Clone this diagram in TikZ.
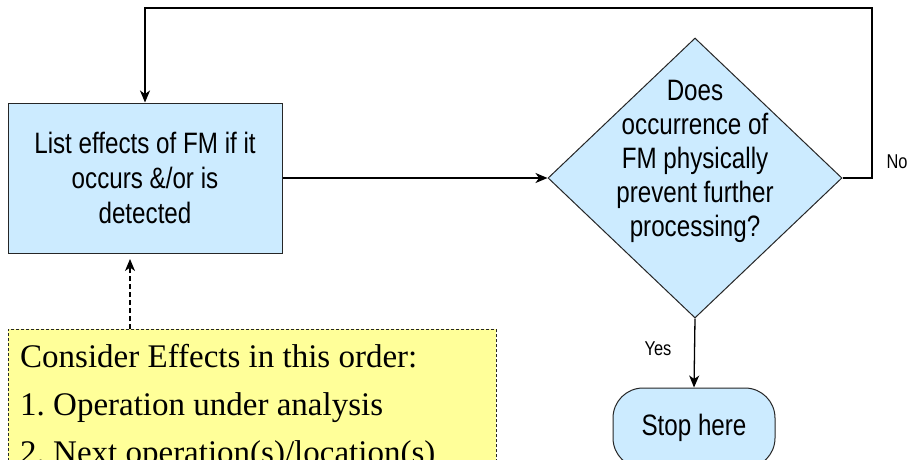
\documentclass[tikz,border=0pt]{standalone}
\usepackage{fontspec}
\setmainfont{Liberation Serif}
\newfontfamily\narrowsans[FakeStretch=0.82]{Liberation Sans}
\usetikzlibrary{shapes.geometric,arrows.meta}

\definecolor{boxblue}{HTML}{CCEBFF}
\definecolor{noteyellow}{HTML}{FFFF99}

\tikzset{
  flowline/.style={line width=1.3pt, -{Stealth[length=12pt,width=10pt,inset=3.5pt]}},
  process/.style={draw=black!85, line width=1pt, fill=boxblue, rectangle,
    minimum width=274pt, minimum height=150pt, inner sep=0pt, align=center,
    font=\narrowsans\fontsize{29.5}{34.8}\selectfont},
  decision/.style={draw=black!85, line width=1pt, fill=boxblue, diamond,
    minimum width=294pt, minimum height=280pt, inner sep=0pt},
  decisiontext/.style={align=center, inner sep=0pt,
    font=\narrowsans\fontsize{29.5}{34}\selectfont},
  terminal/.style={draw=black!85, line width=1pt, fill=boxblue, rectangle,
    rounded corners=30pt, minimum width=162pt, minimum height=80pt,
    font=\narrowsans\fontsize{29.5}{34}\selectfont},
  notebox/.style={draw=black!85, line width=0.9pt, dash pattern=on 3pt off 2pt,
    fill=noteyellow, rectangle, minimum width=488pt, minimum height=160pt,
    inner sep=0pt},
  noteline/.style={anchor=base west, inner sep=0pt,
    font=\frenchspacing\fontsize{33}{40}\selectfont},
  edgelabel/.style={inner sep=0pt, font=\narrowsans\fontsize{20}{24}\selectfont},
}

\begin{document}
\begin{tikzpicture}[x=1pt, y=-1pt]
  \clip (0,0) rectangle (909,459);
  \fill[white] (0,0) rectangle (909,459);

  % process step and decision
  \node[process] (effects) at (145,178) {List effects of FM if it\\occurs \&/or is\\detected};
  \node[decision] (prevent) at (695,178) {};
  \node[decisiontext] (preventtext) at (695,161)
    {Does\\occurrence of\\FM physically\\prevent further\\processing?};
  \node[terminal] (stop) at (694,428) {Stop here};

  % note with the order of effects
  \node[notebox, anchor=north west] (note) at (8,329) {};
  \node[noteline] (noteA) at (20,367) {Consider Effects in this order:};
  \node[noteline] (noteB) at (20,415) {1. Operation under analysis};
  \node[noteline] (noteC) at (20,463) {2. Next operation(s)/location(s)};

  % connectors
  \draw[flowline] (effects.east) -- (prevent.west);
  \draw[flowline] (prevent.south) -- (stop.north);
  \coordinate (loopright) at (872,8);
  \draw[flowline] (prevent.east) -| (loopright) -| (effects.north);
  \coordinate (notetip) at (130,259);
  \draw[flowline, line width=1.1pt, dash pattern=on 5pt off 3pt]
    (notetip |- note.north) -- (notetip);

  % branch labels
  \node[edgelabel] (nolabel) at (897,162) {No};
  \node[edgelabel] (yeslabel) at (658,349) {Yes};
\end{tikzpicture}
\end{document}
